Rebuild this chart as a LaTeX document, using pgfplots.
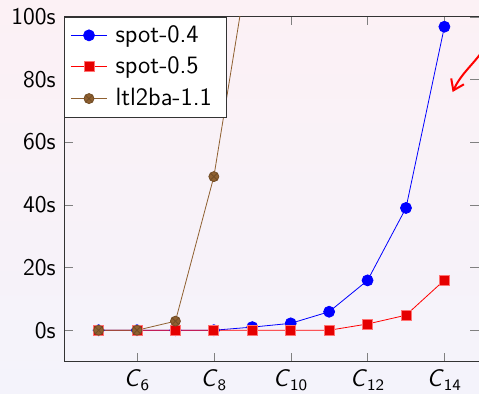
\documentclass[border=0pt]{standalone}
\usepackage{pgfplots}
\pgfplotsset{compat=1.18}
\usetikzlibrary{arrows.meta}
\renewcommand{\familydefault}{\sfdefault}
\definecolor{bgtop}{RGB}{252,241,245}
\definecolor{bgbot}{RGB}{244,243,251}
\definecolor{mybrown}{RGB}{143,96,48}
\begin{document}
\fontsize{12}{14}\selectfont
\begin{tikzpicture}
\useasboundingbox (0,0) rectangle (239.5pt,196.5pt);
\shade[top color=bgtop, bottom color=bgbot] (0,0) rectangle (239.5pt,196.5pt);
\begin{axis}[
  at={(32pt,15.7pt)}, anchor=south west,
  scale only axis, width=207.5pt, height=172.45pt,
  xmin=4.1, xmax=14.9, ymin=-10, ymax=100,
  xtick={6,8,10,12,14},
  xticklabels={\textsl{C}\textsubscript{6},\textsl{C}\textsubscript{8},\textsl{C}\textsubscript{10},\textsl{C}\textsubscript{12},\textsl{C}\textsubscript{14}},
  ytick={0,20,40,60,80,100},
  yticklabels={0s,20s,40s,60s,80s,100s},
  ticklabel style={font=\fontsize{12}{14}\selectfont\sffamily},
  major tick style={gray},
  axis line style={black!80},
  legend cell align=left,
  legend image code/.code={\draw[mark repeat=2,mark phase=2] plot coordinates {(0cm,0cm) (0.32cm,0cm) (0.64cm,0cm)};},
  legend style={at={(0,1)}, anchor=north west, draw=black!80, fill=white,
    font=\fontsize{12.5}{15}\selectfont\sffamily, row sep=1.5pt, inner xsep=3pt, inner ysep=2pt,
    nodes={inner xsep=4pt}},
]
\addplot[blue, mark=*, mark size=2.75pt] coordinates {
 (5,0) (6,0) (7,0) (8,0) (9,1) (10,2.2) (11,5.9) (12,15.9) (13,39) (14,96.8)};
\addlegendentry{spot-0.4}
\addplot[red, mark=square*, mark size=2.5pt, mark options={fill=red!90!black, draw=red!55}] coordinates {
 (5,0) (6,0) (7,0) (8,0) (9,0) (10,0) (11,0) (12,2) (13,4.8) (14,16)};
\addlegendentry{spot-0.5}
\addplot[mybrown, mark=otimes*, mark size=2.5pt, mark options={fill=mybrown, draw=mybrown!80!black}] coordinates {
 (5,0) (6,0) (7,2.9) (8,49) (9,124.5)};
\addlegendentry{ltl2ba-1.1}
\end{axis}
\draw[red, line width=1pt, -{Straight Barb[length=5pt,width=7pt]}] (242pt,172pt) to[out=235,in=65] (226.3pt,150.5pt);
\end{tikzpicture}
\end{document}
